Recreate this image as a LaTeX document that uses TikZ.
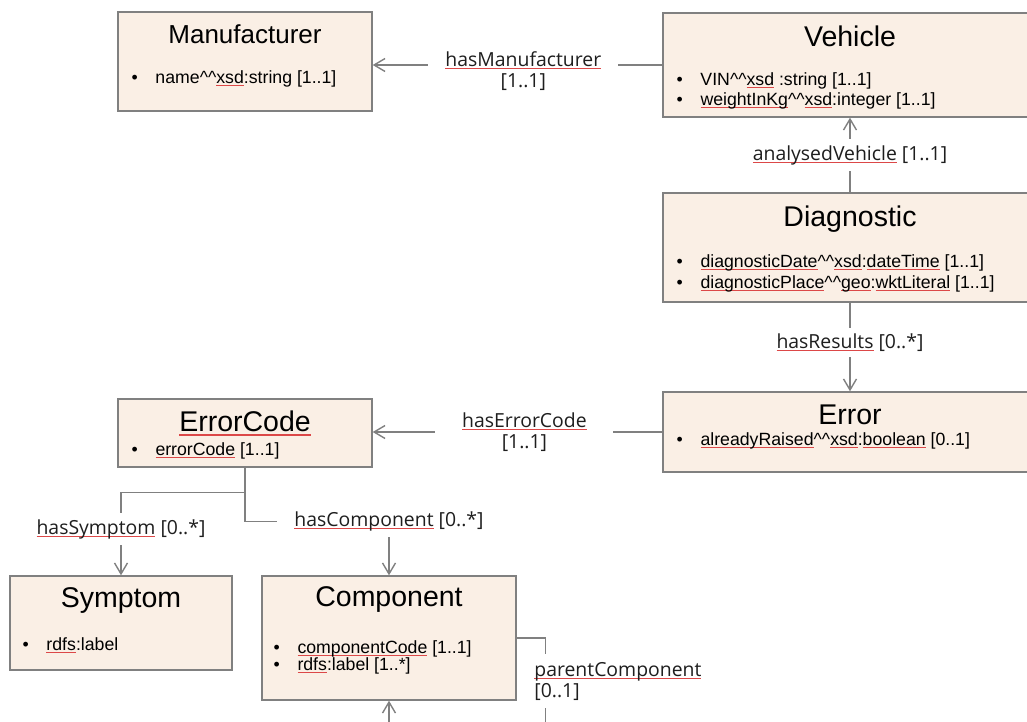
\documentclass[tikz,border=0pt]{standalone}
\usepackage{fontspec}
\setmainfont{Liberation Sans}
\newfontfamily\relfont{Open Sans}
\usetikzlibrary{arrows.meta}

\definecolor{boxfill}{RGB}{250,239,229}
\definecolor{boxline}{RGB}{128,128,128}
\definecolor{spellred}{RGB}{220,72,72}
\definecolor{reltext}{RGB}{30,30,30}

% red spell-check line under a word
\newcommand{\spellmark}[1]{\leavevmode\begingroup\setbox0\hbox{#1}\rlap{\textcolor{spellred}{\rule[-0.15em]{\wd0}{0.055em}}}\box0\endgroup}
\newcommand{\bul}{\makebox[24pt][l]{\textbullet}}
\newcommand{\carets}{\textasciicircum\textasciicircum}

\tikzset{
  classbox/.style={draw=boxline, fill=boxfill, line width=1.4pt, rectangle, inner sep=0pt},
  boxtitle/.style={anchor=base, inner sep=0pt, text=black, font=\fontsize{28.5}{32}\selectfont},
  attr/.style={anchor=base west, inner sep=0pt, text=black, font=\fontsize{17.7}{20.5}\selectfont},
  conn/.style={draw=boxline, line width=1.4pt},
  relarrow/.style={-{Straight Barb[length=11pt,width=13pt,line width=1.4pt]}},
  rel/.style={fill=white, text=reltext, inner xsep=17pt, inner ysep=6pt, align=center, font=\relfont\fontsize{19.4}{21}\selectfont}
}

\begin{document}
\begin{tikzpicture}[x=1pt, y=1pt]
	\useasboundingbox (0,0) rectangle (1027,-722);

	% classes
	\node[classbox, minimum width=254pt, minimum height=99pt] (manu) at (245,-61.5) {};
	\node[classbox, minimum width=374pt, minimum height=104pt] (veh) at (850,-65) {};
	\node[classbox, minimum width=374pt, minimum height=109pt] (diag) at (850,-247.5) {};
	\node[classbox, minimum width=374pt, minimum height=80pt] (err) at (850,-432) {};
	\node[classbox, minimum width=254pt, minimum height=68pt] (ec) at (245,-433) {};
	\node[classbox, minimum width=222pt, minimum height=94pt] (sym) at (121,-623) {};
	\node[classbox, minimum width=254pt, minimum height=124pt] (comp) at (389,-638) {};

	% titles
	\node[boxtitle, font=\fontsize{26}{30}\selectfont] (manu-t) at ([yshift=-32pt]manu.north) {Manufacturer};
	\node[boxtitle] (veh-t) at ([yshift=-34pt]veh.north) {Vehicle};
	\node[boxtitle] (diag-t) at ([yshift=-34pt]diag.north) {Diagnostic};
	\node[boxtitle] (err-t) at ([yshift=-33pt]err.north) {Error};
	\node[boxtitle] (ec-t) at ([yshift=-33pt]ec.north) {\spellmark{ErrorCode}};
	\node[boxtitle] (sym-t) at ([yshift=-32pt]sym.north) {Symptom};
	\node[boxtitle] (comp-t) at ([yshift=-31pt]comp.north) {Component};

	% attributes
	\node[attr] (manu-a1) at ([shift={(14,-72)}]manu.north west) {\bul name\carets\spellmark{xsd}:string [1..1]};
	\node[attr] (veh-a1) at ([shift={(14,-73)}]veh.north west) {\bul VIN\carets\spellmark{xsd} :string [1..1]};
	\node[attr] (veh-a2) at ([shift={(14,-93)}]veh.north west) {\bul \spellmark{weightInKg}\carets\spellmark{xsd}:integer [1..1]};
	\node[attr] (diag-a1) at ([shift={(14,-75)}]diag.north west) {\bul \spellmark{diagnosticDate}\carets\spellmark{xsd}:\spellmark{dateTime} [1..1]};
	\node[attr] (diag-a2) at ([shift={(14,-96)}]diag.north west) {\bul \spellmark{diagnosticPlace}\carets\spellmark{geo}:\spellmark{wktLiteral} [1..1]};
	\node[attr] (err-a1) at ([shift={(14,-54)}]err.north west) {\bul \spellmark{alreadyRaised}\carets\spellmark{xsd}:\spellmark{boolean} [0..1]};
	\node[attr] (ec-a1) at ([shift={(14,-57)}]ec.north west) {\bul \spellmark{errorCode} [1..1]};
	\node[attr] (sym-a1) at ([shift={(13,-75)}]sym.north west) {\bul \spellmark{rdfs}:label};
	\node[attr] (comp-a1) at ([shift={(12,-78)}]comp.north west) {\bul \spellmark{componentCode} [1..1]};
	\node[attr] (comp-a2) at ([shift={(12,-95)}]comp.north west) {\bul \spellmark{rdfs}:label [1..*]};

	% relations
	\draw[conn, relarrow] (veh.west) -- (veh.west -| manu.east) node[rel, pos=0.48, yshift=-6pt] {\spellmark{hasManufacturer}\\{[1..1]}};
	\draw[conn, relarrow] (diag.north) -- (veh.south) node[rel, midway] {\spellmark{analysedVehicle} [1..1]};
	\draw[conn, relarrow] (diag.south) -- (err.north) node[rel, pos=0.45] {\spellmark{hasResults} [0..*]};
	\draw[conn, relarrow] (err.west) -- (err.west -| ec.east) node[rel, pos=0.476, minimum width=178pt] {\spellmark{hasErrorCode}\\{[1..1]}};
	\draw[conn, relarrow] (ec.south) -- ++(0,-25) -| node[rel, pos=0.72] {\spellmark{hasSymptom} [0..*]} (sym.north);
	\draw[conn, relarrow] (ec.south) |- ([yshift=54pt]comp.north) node[rel] {\spellmark{hasComponent} [0..*]} -- (comp.north);
	\draw[conn, relarrow] (comp.east) -- ++(29,0) -- node[rel, pos=0.31, anchor=west, xshift=-14pt, inner xsep=2pt, inner ysep=8pt, align=left] {\spellmark{parentComponent}\\{[0..1]}} ++(0,-140) -| (comp.south);
\end{tikzpicture}
\end{document}
